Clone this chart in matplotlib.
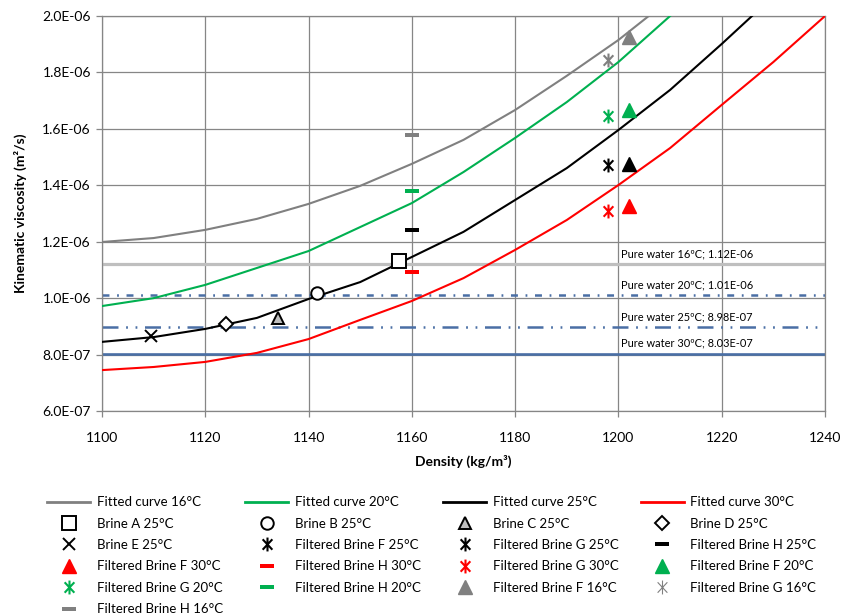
import numpy as np
import matplotlib
matplotlib.use('Agg')
import matplotlib.pyplot as plt
from matplotlib.lines import Line2D
from matplotlib.path import Path
from matplotlib.ticker import FuncFormatter, MultipleLocator

plt.rcParams['font.family'] = ['Lato', 'DejaVu Sans']
plt.rcParams['lines.scale_dashes'] = False

# fitted curves (density kg/m3 -> kinematic viscosity m2/s)
density_16 = [1100, 1110, 1120, 1130, 1140, 1150, 1160, 1170, 1180, 1190, 1200, 1210]
visc_16 = [1.199e-6, 1.213e-6, 1.242e-6, 1.281e-6, 1.334e-6, 1.398e-6, 1.476e-6,
           1.561e-6, 1.667e-6, 1.788e-6, 1.915e-6, 2.06e-6]
density_20 = [1100, 1110, 1120, 1130, 1140, 1150, 1160, 1170, 1180, 1190, 1200, 1210]
visc_20 = [0.972e-6, 1.000e-6, 1.047e-6, 1.107e-6, 1.167e-6, 1.252e-6, 1.337e-6,
           1.447e-6, 1.568e-6, 1.695e-6, 1.837e-6, 2.0e-6]
density_25 = [1100, 1110, 1120, 1130, 1140, 1150, 1160, 1170, 1180, 1190, 1200, 1210, 1220, 1230]
visc_25 = [0.845e-6, 0.862e-6, 0.891e-6, 0.930e-6, 0.997e-6, 1.057e-6, 1.146e-6,
           1.235e-6, 1.348e-6, 1.461e-6, 1.596e-6, 1.738e-6, 1.901e-6, 2.07e-6]
density_30 = [1100, 1110, 1120, 1130, 1140, 1150, 1160, 1170, 1180, 1190, 1200, 1210, 1220, 1230, 1240]
visc_30 = [0.745e-6, 0.756e-6, 0.774e-6, 0.806e-6, 0.855e-6, 0.923e-6, 0.99e-6,
           1.071e-6, 1.171e-6, 1.277e-6, 1.401e-6, 1.532e-6, 1.685e-6, 1.837e-6, 2.0e-6]

# pure water reference values
water_temps = ['16', '20', '25', '30']
water_visc = [1.12e-6, 1.01e-6, 8.98e-7, 8.03e-7]

# brines A-E at 25 C
brine_names = ['A', 'B', 'C', 'D', 'E']
brine_density = [1157.6, 1141.6, 1134.0, 1124.0, 1109.4]
brine_visc = [1.133e-6, 1.018e-6, 0.928e-6, 0.908e-6, 0.867e-6]

# filtered brines F, G, H at each temperature
filt_temps = ['30', '25', '20', '16']
filt_F_density = 1202
filt_F_visc = [1.327e-6, 1.476e-6, 1.667e-6, 1.927e-6]
filt_G_density = 1198
filt_G_visc = [1.31e-6, 1.472e-6, 1.647e-6, 1.845e-6]
filt_H_density = 1160
filt_H_visc = [1.094e-6, 1.24e-6, 1.38e-6, 1.579e-6]

temp_colors = {'16': '#808080', '20': '#00B050', '25': 'black', '30': '#FF0000'}
water_blue = '#4A6FA5'

star = Path([(0, -1), (0, 1), (-0.7, -0.75), (0.7, 0.75), (-0.7, 0.75), (0.7, -0.75)],
            [Path.MOVETO, Path.LINETO, Path.MOVETO, Path.LINETO, Path.MOVETO, Path.LINETO])
dash = Path([(-1, -0.33), (1, -0.33), (1, 0.33), (-1, 0.33), (-1, -0.33)],
            [Path.MOVETO, Path.LINETO, Path.LINETO, Path.LINETO, Path.CLOSEPOLY])

fig = plt.figure(figsize=(8.43, 6.15), dpi=100)
ax = fig.add_axes([0.121, 0.3317, 0.8577, 0.6423])

# pure water lines
water_styles = {
    '16': dict(color='#BFBFBF', lw=2.3, ls='-'),
    '20': dict(color=water_blue, lw=1.8, ls=(0, (5, 5.5, 1.3, 5.5))),
    '25': dict(color=water_blue, lw=1.8, ls=(0, (11.5, 5.5, 1.3, 5.5, 1.3, 5.5))),
    '30': dict(color=water_blue, lw=1.9, ls='-'),
}
for t, v in zip(water_temps, water_visc):
    ax.axhline(v, zorder=2, **water_styles[t])
    ax.annotate(f'Pure water {t}ºC; {v:.2E}', (1200.5, v), xytext=(0, 3.5),
                textcoords='offset points', fontsize=7.9, va='bottom', ha='left')

# fitted curves
curves = [(density_16, visc_16, '16'), (density_20, visc_20, '20'),
          (density_25, visc_25, '25'), (density_30, visc_30, '30')]
for d, v, t in curves:
    ax.plot(d, v, color=temp_colors[t], lw=1.5, zorder=3)

brine_markers = [dict(marker='s', ms=9.5, mfc='white'), dict(marker='o', ms=9, mfc='white'),
                 dict(marker='^', ms=9, mfc='#BFBFBF'), dict(marker='D', ms=7, mfc='white'),
                 dict(marker='x', ms=8.5, mfc='none')]
for name, d, v, m in zip(brine_names, brine_density, brine_visc, brine_markers):
    ax.plot(d, v, ls='none', mec='black', mew=1.4, zorder=4, **m)

for t, vf, vg, vh in zip(filt_temps, filt_F_visc, filt_G_visc, filt_H_visc):
    c = temp_colors[t]
    ax.plot(filt_F_density, vf, ls='none', marker='^', ms=10, color=c, mec=c, zorder=4)
    ax.plot(filt_G_density, vg, ls='none', marker=star, ms=10, mfc='none', mec=c,
            mew=1.5, zorder=4)
    ax.plot(filt_H_density, vh, ls='none', marker=dash, ms=10.5, color=c, mew=0, zorder=4)

ax.set_xlim(1100, 1240)
ax.set_ylim(6e-7, 2e-6)
ax.xaxis.set_major_locator(MultipleLocator(20))
ax.yaxis.set_major_locator(MultipleLocator(2e-7))
ax.yaxis.set_major_formatter(FuncFormatter(lambda v, pos: f'{v:.1E}'))
ax.grid(True, color='#868686', lw=0.9)
ax.set_axisbelow(True)
for s in ax.spines.values():
    s.set_color('#868686')
    s.set_linewidth(0.9)
ax.tick_params(direction='out', length=4, width=0.9, color='#868686',
               labelsize=10, pad=4)
ax.tick_params(axis='x', pad=11)
ax.set_xlabel('Density (kg/m³)', fontsize=10, fontweight='bold', labelpad=8)
ax.set_ylabel('Kinematic viscosity (m²/s)', fontsize=10, fontweight='bold', labelpad=11)

# legend, filled row by row like the spreadsheet layout
entries = []
for t in ['16', '20', '25', '30']:
    entries.append((Line2D([], [], color=temp_colors[t], lw=2), f'Fitted curve {t}°C'))
for name, m in zip(brine_names, brine_markers):
    entries.append((Line2D([], [], ls='none', mec='black', mew=1.4, **m), f'Brine {name} 25°C'))
legend_marks = [
    ('F', '25', star), ('G', '25', star), ('H', '25', dash),
    ('F', '30', '^'), ('H', '30', dash), ('G', '30', star), ('F', '20', '^'),
    ('G', '20', star), ('H', '20', dash), ('F', '16', '^'), ('G', '16', star),
    ('H', '16', dash),
]
for b, t, mk in legend_marks:
    c = temp_colors[t]
    if mk is star:
        h = Line2D([], [], ls='none', marker=star, ms=10, mfc='none', mec=c,
                   mew=0.8 if t == '16' else 1.5)
    elif mk is dash:
        h = Line2D([], [], ls='none', marker=dash, ms=10.5, color=c, mew=0)
    else:
        h = Line2D([], [], ls='none', marker='^', ms=10, color=c)
    entries.append((h, f'Filtered Brine {b} {t}°C'))

ncol = 4
order = []
for col in range(ncol):
    order += list(range(col, len(entries), ncol))
handles = [entries[i][0] for i in order]
labels = [entries[i][1] for i in order]
fig.legend(handles, labels, ncol=ncol, loc='upper left', bbox_to_anchor=(0.056, 0.193),
           frameon=False, fontsize=9.5, handlelength=3.25, handletextpad=0.5,
           columnspacing=1.7, labelspacing=0.71, borderpad=0, borderaxespad=0)

fig.savefig('out.png', dpi=100)
